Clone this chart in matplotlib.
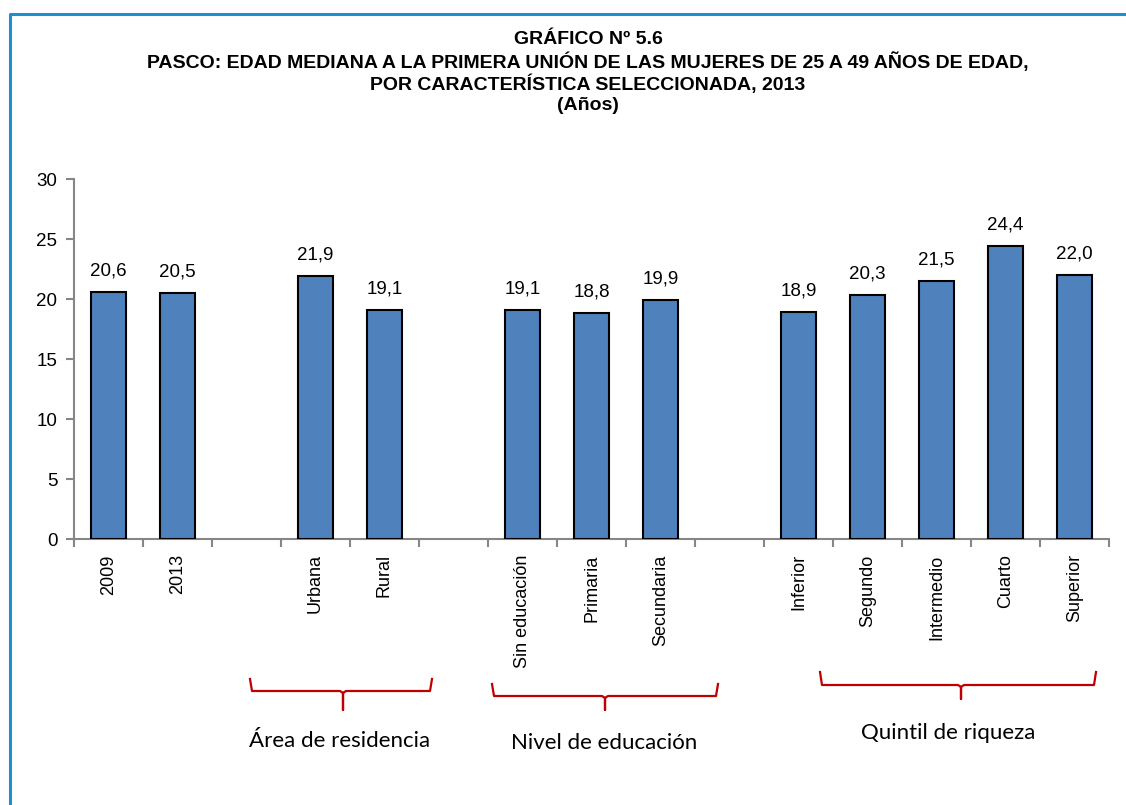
import numpy as np
import matplotlib.pyplot as plt
from matplotlib.lines import Line2D

# data
categories = ['2009', '2013', '', 'Urbana', 'Rural', '', 'Sin educación', 'Primaria', 'Secundaria', '',
              'Inferior', 'Segundo', 'Intermedio', 'Cuarto', 'Superior']
values = [20.6, 20.5, None, 21.9, 19.1, None, 19.1, 18.8, 19.9, None,
          18.9, 20.3, 21.5, 24.4, 22.0]
group_names = ['Área de residencia', 'Nivel de educación', 'Quintil de riqueza']
yticks = [0, 5, 10, 15, 20, 25, 30]

title_lines = ['GRÁFICO Nº 5.6',
               'PASCO: EDAD MEDIANA A LA PRIMERA UNIÓN DE LAS MUJERES DE 25 A 49 AÑOS DE EDAD,',
               'POR CARACTERÍSTICA SELECCIONADA, 2013',
               '(Años)']

W, H = 1126, 805
fig = plt.figure(figsize=(W / 100, H / 100), dpi=100)
fig.patch.set_facecolor('white')

arial = ['Liberation Sans', 'DejaVu Sans']
calibri = ['Lato', 'Open Sans', 'DejaVu Sans']

ax = fig.add_axes([74 / W, (H - 539) / H, 1035 / W, 360 / H])

x = np.arange(len(categories))
for i, v in enumerate(values):
    if v is None:
        continue
    ax.bar(x[i], v, width=0.5, color='#4F81BD', edgecolor='black', linewidth=1.5, zorder=3)
    ax.annotate(f'{v:.1f}'.replace('.', ','), (x[i], v), xytext=(0, 9), textcoords='offset points',
                ha='center', va='bottom', fontsize=13.5, family=arial)

ax.set_xlim(-0.5, len(categories) - 0.5)
ax.set_ylim(0, 30)
ax.set_yticks(yticks)
ax.set_yticklabels([str(t) for t in yticks], fontsize=13.5, family=arial)

ax.set_xticks(x)
ax.set_xticklabels(categories, rotation=90, fontsize=13, family=arial, va='top')
ax.tick_params(axis='x', which='major', length=0, pad=11)
ax.set_xticks(np.arange(len(categories) + 1) - 0.5, minor=True)
ax.tick_params(axis='x', which='minor', length=6, color='#868686', width=1.5)
ax.tick_params(axis='y', length=6, color='#868686', width=1.5, pad=6)

for s in ['top', 'right']:
    ax.spines[s].set_visible(False)
for s in ['left', 'bottom']:
    ax.spines[s].set_color('#868686')
    ax.spines[s].set_linewidth(1.5)

# title
for k, line in enumerate(title_lines):
    fig.text(588 / W, 1 - (40 + 22 * k) / H, line, ha='center', va='center',
             fontsize=14, fontweight='bold', family=arial)

# overlay for braces and frame, in pixel coordinates
ov = fig.add_axes([0, 0, 1, 1])
ov.set_xlim(0, W)
ov.set_ylim(H, 0)
ov.axis('off')
ov.patch.set_alpha(0)

braces = [(250, 432, 343, 679, 691, 710), (492, 718, 605, 684, 696, 710), (820, 1096, 961, 672, 685, 699)]
label_pos = [(340, 741), (604, 743), (948, 733)]
for (x0, x1, xm, ytop, ymid, ytip), name, (tx, ty) in zip(braces, group_names, label_pos):
    ov.plot([x0, x0 + 2, xm - 3, xm, xm, xm, xm + 3, x1 - 2, x1],
            [ytop, ymid, ymid, ymid + 2, ytip, ymid + 2, ymid, ymid, ytop],
            color='#C00000', lw=1.6, solid_joinstyle='round')
    ov.text(tx, ty, name, ha='center', va='center', fontsize=16, family=calibri)

# frame
ov.add_line(Line2D([10, 10, W], [H, 14, 14], color='#1B8FCF', lw=2.2))

fig.savefig('out.png', dpi=100)
